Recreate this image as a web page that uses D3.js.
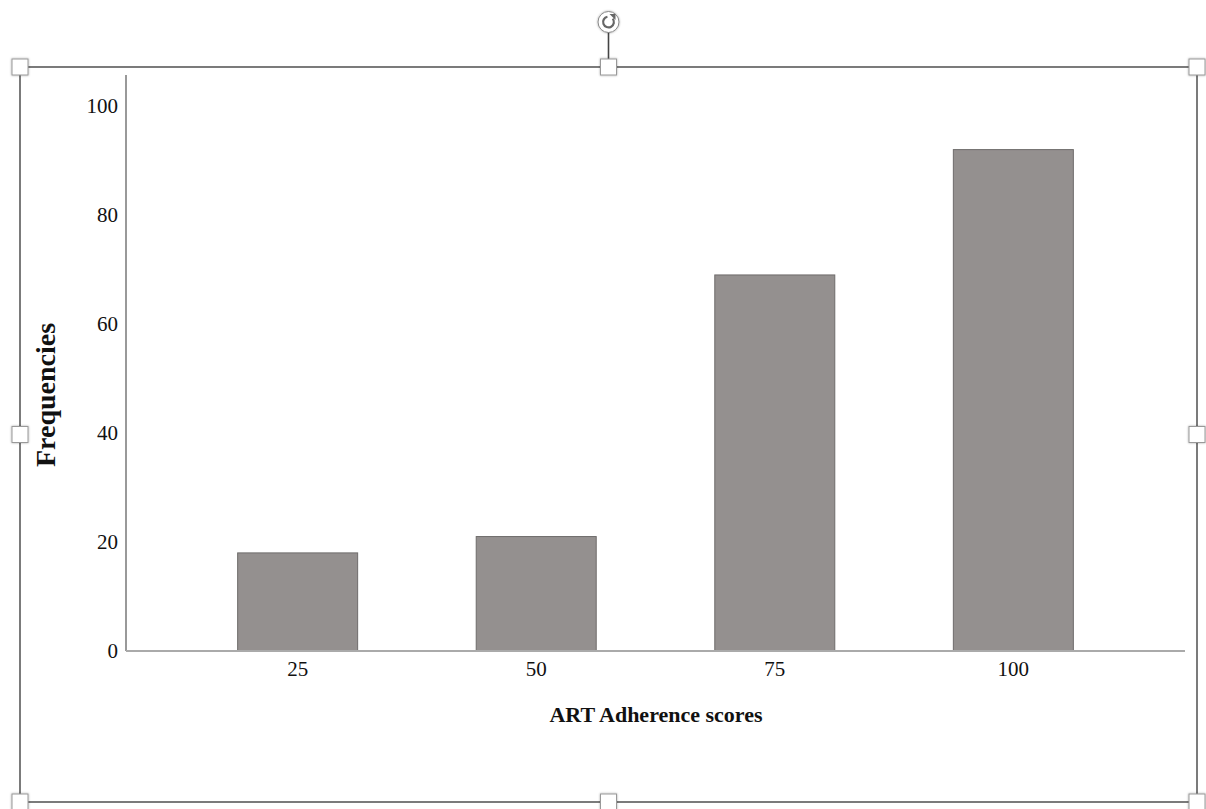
<!DOCTYPE html>
<html>
  <head>
    <script src="https://d3js.org/d3.v7.min.js"></script>
    <style>
      body,
      html {
        margin: 0;
        background: #fff;
        overflow: hidden;
      }
      text {
        font-family: "Liberation Serif", "Times New Roman", serif;
        fill: #111;
      }
    </style>
    <title>ART Adherence</title>
  </head>
  <body>
    <svg id="chart" width="1206" height="809"></svg>

    <script>
      // values
      var scores = ["25", "50", "75", "100"];
      var frequencies = [18, 21, 69, 92];
      var yTicks = [0, 20, 40, 60, 80, 100];

      var svg = d3.select("#chart");

      // the word-style selection frame around the chart
      var frame = { left: 20, top: 67, right: 1197, bottom: 802 };
      var plot = { left: 126, right: 1185, top: 75, bottom: 651 };

      var x = d3
        .scaleBand()
        .domain(scores)
        .range([plot.left, plot.right])
        .paddingInner(0.497)
        .paddingOuter(0.468);

      var y = d3.scaleLinear().domain([0, 100]).range([plot.bottom, 106]);

      var defs = svg.append("defs");
      var shadow = defs.append("filter").attr("id", "shadow")
        .attr("x", "-50%").attr("y", "-50%").attr("width", "200%").attr("height", "200%");
      shadow.append("feDropShadow")
        .attr("dx", 0).attr("dy", 0).attr("stdDeviation", 1.2)
        .attr("flood-color", "#000").attr("flood-opacity", 0.35);

      // bars
      svg
        .append("g")
        .selectAll("rect")
        .data(frequencies)
        .enter()
        .append("rect")
        .attr("x", function (d, i) {
          return x(scores[i]);
        })
        .attr("y", function (d) {
          return y(d);
        })
        .attr("width", x.bandwidth())
        .attr("height", function (d) {
          return y(0) - y(d);
        })
        .attr("fill", "#94908f")
        .attr("stroke", "#6e6c6b")
        .attr("stroke-width", 1);

      // y axis
      var yAxis = svg
        .append("g")
        .attr("transform", "translate(" + plot.left + ",0)")
        .call(d3.axisLeft(y).tickValues(yTicks).tickSize(0).tickPadding(8));
      yAxis.select(".domain").remove();
      yAxis.selectAll("text").style("font-size", "21px").attr("fill", "#111");
      svg
        .append("line")
        .attr("x1", plot.left).attr("x2", plot.left)
        .attr("y1", plot.top).attr("y2", plot.bottom)
        .attr("stroke", "#777").attr("stroke-width", 1.5);

      // x axis
      var xAxis = svg
        .append("g")
        .attr("transform", "translate(0," + plot.bottom + ")")
        .call(d3.axisBottom(x).tickSize(0).tickPadding(10));
      xAxis.select(".domain").remove();
      xAxis.selectAll("text").style("font-size", "21px").attr("fill", "#111");
      svg
        .append("line")
        .attr("x1", plot.left).attr("x2", plot.right)
        .attr("y1", plot.bottom).attr("y2", plot.bottom)
        .attr("stroke", "#aaa").attr("stroke-width", 2);

      // axis titles
      svg
        .append("text")
        .attr("x", 656)
        .attr("y", 722)
        .attr("text-anchor", "middle")
        .style("font-size", "22px")
        .style("font-weight", "bold")
        .text("ART Adherence scores");

      svg
        .append("text")
        .attr("transform", "translate(55,395) rotate(-90)")
        .attr("text-anchor", "middle")
        .style("font-size", "28px")
        .style("font-weight", "bold")
        .text("Frequencies");

      // frame
      var midX = (frame.left + frame.right) / 2;
      var midY = (frame.top + frame.bottom) / 2;
      svg
        .append("rect")
        .attr("x", frame.left).attr("y", frame.top)
        .attr("width", frame.right - frame.left)
        .attr("height", frame.bottom - frame.top)
        .attr("fill", "none")
        .attr("stroke", "#5a5a5a")
        .attr("stroke-width", 1.6);

      // rotate handle
      svg
        .append("line")
        .attr("x1", midX).attr("x2", midX)
        .attr("y1", 32).attr("y2", frame.top)
        .attr("stroke", "#444").attr("stroke-width", 1.6);
      svg
        .append("circle")
        .attr("cx", midX).attr("cy", 22).attr("r", 10.5)
        .attr("fill", "#fff").attr("stroke", "#888").attr("stroke-width", 1)
        .attr("filter", "url(#shadow)");
      svg
        .append("path")
        .attr("d", d3.arc()({ innerRadius: 4.3, outerRadius: 6.5, startAngle: 0.9, endAngle: 2 * Math.PI - 0.2 }))
        .attr("transform", "translate(" + midX + ",22)")
        .attr("fill", "#666");
      svg
        .append("path")
        .attr("d", "M" + (midX + 1) + ",14 l6,0 l0,6 z")
        .attr("fill", "#666");

      var handles = [
        [frame.left, frame.top], [midX, frame.top], [frame.right, frame.top],
        [frame.left, midY], [frame.right, midY],
        [frame.left, frame.bottom], [midX, frame.bottom], [frame.right, frame.bottom],
      ];
      svg
        .append("g")
        .selectAll("rect")
        .data(handles)
        .enter()
        .append("rect")
        .attr("x", function (d) { return d[0] - 8; })
        .attr("y", function (d) { return d[1] - 8; })
        .attr("width", 16)
        .attr("height", 16)
        .attr("fill", "#fff")
        .attr("stroke", "#999")
        .attr("stroke-width", 1)
        .attr("filter", "url(#shadow)");
    </script>
  </body>
</html>
